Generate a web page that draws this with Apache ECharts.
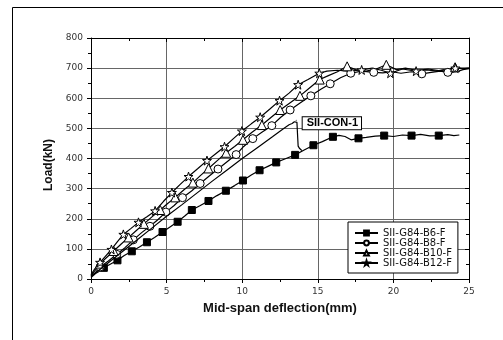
<!DOCTYPE html>
<html>
<head>
<meta charset="utf-8">
<script src="https://cdn.jsdelivr.net/npm/echarts@6/dist/echarts.min.js"></script>
<style>
  html, body { margin: 0; padding: 0; background: #fff; }
  #chart { width: 503px; height: 340px; }
</style>
</head>
<body>
<div id="chart"></div>
<script>
// Load vs. mid-span deflection of the SII beam specimens.
// Each specimen: marked readings (drawn with a symbol) and the readings in between.
const seriesNames = ['SII-G84-B6-F', 'SII-G84-B8-F', 'SII-G84-B10-F', 'SII-G84-B12-F'];
const controlName = 'SII-CON-1';

const xTicks = [0, 5, 10, 15, 20, 25];
const yTicks = [0, 100, 200, 300, 400, 500, 600, 700, 800];

const b6Marks = [[0.85,37],[1.75,62],[2.7,92],[3.7,122],[4.73,156],[5.73,190],[6.67,229],[7.77,259],[8.92,293],[10.05,327],[11.15,361],[12.25,387],[13.5,412],[14.71,444],[16.0,472],[17.69,467],[19.39,476],[21.2,476],[23.0,476]];
const b6Path = [[0,5],[0.3,18],[0.5,24],[1.3,50],[2.2,78],[3.2,106],[4.2,138],[5.2,172],[6.2,209],[7.2,243],[8.3,276],[9.5,310],[10.6,345],[11.7,374],[12.9,400],[14.1,428],[15.3,456],[16.4,477],[16.8,473],[17.2,462],[18.2,470],[18.8,474],[20.0,473],[20.6,478],[21.8,480],[22.4,475],[23.6,479],[24.0,476],[24.36,478]];

const b8Marks = [[0.6,40],[1.7,82],[2.8,130],[3.9,175],[4.95,222],[6.05,270],[7.22,317],[8.4,365],[9.6,413],[10.7,466],[11.96,509],[13.17,561],[14.54,608],[15.82,648],[17.18,683],[18.7,686],[21.88,681],[23.6,686]];
const b8Path = [[0,10],[0.3,22],[1.15,60],[2.25,104],[3.35,154],[4.4,196],[5.5,244],[6.65,292],[7.8,341],[9.0,389],[10.1,440],[11.3,487],[12.55,537],[13.85,585],[15.2,630],[16.5,668],[17.9,690],[19.3,684],[19.9,688],[20.5,683],[21.2,688],[22.5,686],[23.1,690],[24.2,688],[24.6,695],[25,698]];

const b10Marks = [[0.6,51],[1.5,93],[2.49,138],[3.5,183],[4.58,229],[5.57,271],[6.74,320],[7.77,367],[8.94,419],[10.05,462],[11.3,511],[12.51,561],[13.82,608],[15.13,662],[16.94,706],[19.53,711],[24.08,703]];
const b10Path = [[0,12],[0.3,30],[1.05,72],[2.0,116],[3.0,161],[4.05,207],[5.05,250],[6.15,296],[7.25,344],[8.35,393],[9.5,440],[10.65,487],[11.9,536],[13.15,584],[14.45,634],[15.7,675],[16.3,688],[17.5,695],[18.2,690],[18.9,698],[20.2,695],[20.8,700],[21.5,693],[22.3,697],[23.0,692],[23.6,697],[24.5,700],[25,700]];

const b12Marks = [[0.6,55],[1.35,98],[2.14,148],[3.14,188],[4.24,226],[5.35,287],[6.45,340],[7.67,393],[8.83,439],[9.98,491],[11.19,537],[12.47,592],[13.7,645],[15.1,683],[17.9,694],[19.8,683],[21.5,690],[24.1,700]];
const b12Path = [[0,15],[0.2,30],[0.95,75],[1.75,124],[2.65,168],[3.7,207],[4.8,258],[5.9,314],[7.05,366],[8.25,416],[9.4,465],[10.6,515],[11.85,565],[13.1,617],[14.35,662],[15.6,690],[16.3,693],[17.0,690],[18.6,700],[19.2,693],[20.6,697],[22.2,694],[22.9,690],[23.5,695],[24.6,698],[25,700]];

// Control beam: no symbols, labelled at its peak
const con1Path = [[0,8],[0.5,28],[1.0,48],[1.5,68],[2,88],[3,128],[4,168],[5,208],[6,246],[7,285],[8,324],[9,362],[10,400],[11,436],[12,472],[12.7,498],[13.1,512],[13.3,516],[13.45,522],[13.57,527],[13.62,520],[13.67,470],[13.7,441],[13.8,433],[13.95,426]];

const STAR = 'path://M50,0 L61.8,35.1 L98.5,35.1 L68.8,56.8 L80.1,91.9 L50,70.2 L19.9,91.9 L31.2,56.8 L1.5,35.1 L38.2,35.1 Z';

// Merge marked and unmarked readings into one x-ordered line
function buildData(marks, path) {
  const items = [];
  marks.forEach(p => items.push({ value: p, marked: true }));
  path.forEach(p => items.push({ value: p, marked: false }));
  items.sort((a, b) => a.value[0] - b.value[0]);
  return items.map(it => it.marked ? { value: it.value } : { value: it.value, symbol: 'none' });
}

function specimen(name, marks, path, symbol, size, fill) {
  return {
    name: name,
    type: 'line',
    data: buildData(marks, path),
    symbol: symbol,
    symbolSize: size,
    showAllSymbol: true,
    lineStyle: { color: '#000', width: 1.2 },
    itemStyle: { color: fill, borderColor: '#000', borderWidth: 1 },
    z: 3
  };
}

const peakIndex = con1Path.reduce((best, p, i) => p[1] > con1Path[best][1] ? i : best, 0);
const con1Data = con1Path.map((p, i) => i === peakIndex ? {
  value: p,
  symbol: 'circle',
  symbolSize: 1,
  label: {
    show: true,
    formatter: controlName,
    position: 'right',
    distance: 6,
    offset: [0, 3],
    fontFamily: 'Liberation Sans, Arial, sans-serif',
    fontWeight: 'bold',
    fontSize: 11,
    color: '#000',
    backgroundColor: '#fff',
    borderColor: '#000',
    borderWidth: 1,
    padding: [1, 3, 0, 4]
  }
} : { value: p });

const tickFont = 'DejaVu Sans, sans-serif';
const gridColor = '#666';

const chart = echarts.init(document.getElementById('chart'), null, { renderer: 'canvas' });
chart.setOption({
  animation: false,
  backgroundColor: '#fff',
  grid: { left: 91, right: 34, top: 38, bottom: 61, show: false },
  graphic: [{
    type: 'rect',
    shape: { x: 12.5, y: 7.5, width: 600, height: 400 },
    style: { fill: 'none', stroke: '#000', lineWidth: 1 },
    silent: true, z: 0
  }],
  legend: {
    orient: 'vertical',
    left: 348,
    top: 222,
    data: seriesNames,
    itemWidth: 23,
    itemHeight: 6,
    itemGap: 0,
    padding: [6, 6, 5, 6],
    borderColor: '#000',
    borderWidth: 1,
    backgroundColor: '#fff',
    textStyle: { fontFamily: tickFont, fontSize: 10, color: '#111', lineHeight: 10 }
  },
  xAxis: [{
    type: 'value',
    min: xTicks[0], max: xTicks[xTicks.length - 1], interval: xTicks[1] - xTicks[0],
    name: 'Mid-span deflection(mm)',
    nameLocation: 'middle',
    nameGap: 23,
    nameTextStyle: { fontFamily: 'Liberation Sans, Arial, sans-serif', fontWeight: 'bold', fontSize: 13, color: '#111' },
    axisLine: { show: true, lineStyle: { color: '#000', width: 1 } },
    axisTick: { show: true, inside: false, length: 4, lineStyle: { color: '#000' } },
    minorTick: { show: true, splitNumber: 2, length: 3, lineStyle: { color: '#000' } },
    axisLabel: { fontFamily: tickFont, fontSize: 9, color: '#333', margin: 8 },
    splitLine: { show: true, lineStyle: { color: gridColor, width: 1 } }
  }, {
    type: 'value', position: 'top',
    min: xTicks[0], max: xTicks[xTicks.length - 1], interval: xTicks[1] - xTicks[0],
    axisLine: { show: true, onZero: false, lineStyle: { color: '#000', width: 1 } },
    axisTick: { show: true, inside: true, length: 4, lineStyle: { color: '#000' } },
    minorTick: { show: true, splitNumber: 2, length: 3, lineStyle: { color: '#000' } },
    axisLabel: { show: false },
    splitLine: { show: false }
  }],
  yAxis: [{
    type: 'value',
    min: yTicks[0], max: yTicks[yTicks.length - 1], interval: yTicks[1] - yTicks[0],
    name: 'Load(kN)',
    nameLocation: 'middle',
    nameGap: 34,
    nameTextStyle: { fontFamily: 'Liberation Sans, Arial, sans-serif', fontWeight: 'bold', fontSize: 12, color: '#111', padding: [0, 13, 0, 0] },
    axisLine: { show: true, lineStyle: { color: '#000', width: 1 } },
    axisTick: { show: true, inside: false, length: 4, lineStyle: { color: '#000' } },
    minorTick: { show: true, splitNumber: 2, length: 3, lineStyle: { color: '#000' } },
    axisLabel: { fontFamily: tickFont, fontSize: 9, color: '#333', margin: 8 },
    splitLine: { show: true, lineStyle: { color: gridColor, width: 1 } }
  }, {
    type: 'value', position: 'right',
    min: yTicks[0], max: yTicks[yTicks.length - 1], interval: yTicks[1] - yTicks[0],
    axisLine: { show: true, onZero: false, lineStyle: { color: '#000', width: 1 } },
    axisTick: { show: true, inside: true, length: 4, lineStyle: { color: '#000' } },
    minorTick: { show: true, splitNumber: 2, length: 3, lineStyle: { color: '#000' } },
    axisLabel: { show: false },
    splitLine: { show: false }
  }],
  series: [
    {
      name: controlName,
      type: 'line',
      data: con1Data,
      symbol: 'none',
      lineStyle: { color: '#000', width: 1.2 },
      itemStyle: { color: '#000' },
      z: 4
    },
    specimen(seriesNames[0], b6Marks, b6Path, 'rect', 7, '#000'),
    specimen(seriesNames[1], b8Marks, b8Path, 'circle', 8, '#fff'),
    specimen(seriesNames[2], b10Marks, b10Path, 'triangle', 9, '#fff'),
    specimen(seriesNames[3], b12Marks, b12Path, STAR, 9, '#fff')
  ]
});
</script>
</body>
</html>
